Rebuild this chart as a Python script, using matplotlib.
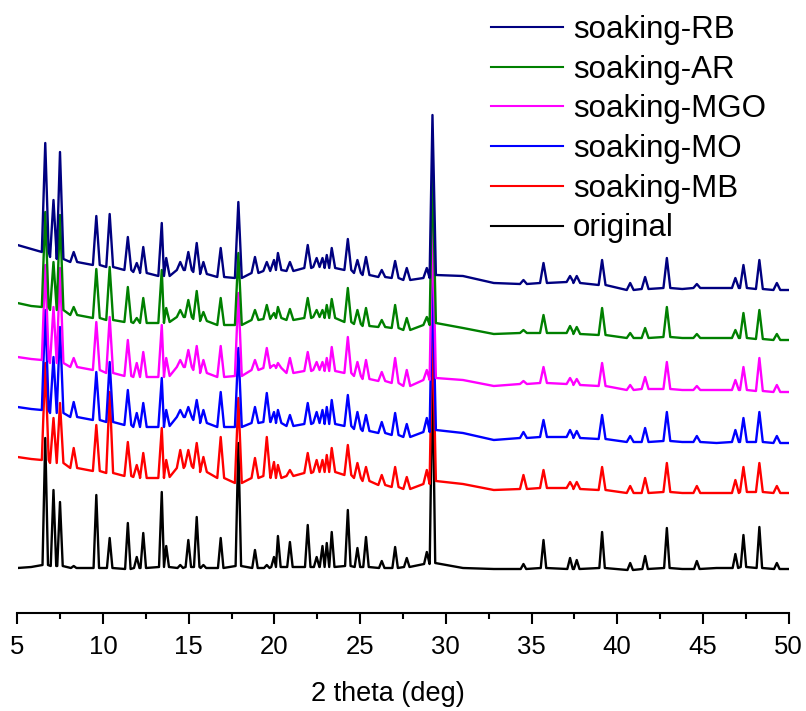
import numpy as np
import matplotlib.pyplot as plt

# peak positions (2theta, deg) shared by all patterns
peak_2theta = [6.62, 7.10, 7.48, 8.28, 9.60, 10.38, 11.44, 11.96,
               12.34, 13.42, 13.68, 14.50, 14.97, 15.46, 15.85, 16.86,
               17.89, 18.86, 19.55, 19.97, 20.20, 20.90, 21.94, 22.46,
               22.80, 23.05, 23.34, 24.28, 24.84, 25.34, 26.26, 27.04,
               27.72, 28.89, 29.22, 34.53, 35.70, 37.25, 37.64, 39.12,
               40.76, 41.63, 42.90, 44.65, 46.90, 47.37, 48.30, 49.32]
# background points away from the peaks
bg_2theta = [5.0, 5.8, 31.0, 32.8, 43.8, 45.8, 50.0]

# intensity at each peak top / at the peak foot, and background (a.u.)
original_top = [130, 78, 66, 2, 73, 30, 45, 11,
                35, 76, 22, 3, 28, 51, 3, 30,
                125, 18, 3, 11, 32, 26, 43, 11,
                22, 25, 36, 58, 20, 31, 7, 21,
                10, 16, 200, 4, 28, 10, 8, 36,
                5, 12, 40, 7, 14, 33, 41, 5]
original_base = [3, 2, 2, 0, 0, 0, -1, 0,
                 0, 1, 1, 0, 1, 1, 0, 0,
                 2, 0, 0, 1, 1, 1, 1, 1,
                 1, 1, 1, 2, 1, 1, 0, 0,
                 1, 4, 5, -1, 0, -1, -1, 0,
                 -2, -1, 0, -1, 0, 1, 0, -1]
original_bg = [0, 1, 0, -1, -1, 0, -1]

mb_top = [130, 75, 90, 45, 68, 101, 51, 28,
          40, 65, 33, 43, 43, 50, 36, 56,
          95, 35, 56, 31, 28, 23, 40, 33,
          33, 38, 45, 48, 30, 26, 18, 26,
          16, 23, 170, 18, 23, 11, 11, 26,
          7, 15, 30, 7, 13, 26, 30, 7]
mb_base = [33, 30, 30, 25, 22, 20, 17, 16,
           15, 15, 16, 25, 27, 25, 21, 15,
           10, 15, 17, 15, 15, 17, 20, 21,
           21, 21, 21, 18, 15, 12, 8, 6,
           4, 9, 12, 4, 5, 5, 4, 3,
           0, 0, 1, 0, 0, 1, 1, 0]
mb_bg = [36, 34, 9, 3, 0, 0, 0]

mo_top = [133, 86, 116, 41, 71, 81, 53, 30,
          40, 65, 33, 33, 36, 43, 33, 51,
          95, 36, 50, 31, 33, 28, 40, 31,
          33, 36, 43, 48, 31, 28, 21, 30,
          19, 25, 165, 11, 23, 13, 12, 28,
          7, 15, 31, 7, 13, 25, 31, 7]
mo_base = [33, 30, 30, 26, 23, 21, 18, 16,
           16, 16, 17, 26, 26, 23, 20, 16,
           16, 20, 21, 21, 20, 17, 19, 20,
           20, 19, 19, 17, 14, 12, 10, 8,
           6, 11, 13, 5, 6, 6, 5, 4,
           1, 1, 2, 1, 1, 1, 1, 0]
mo_bg = [36, 34, 10, 3, 1, 0, 0]

mgo_top = [128, 86, 125, 35, 71, 76, 53, 30,
           41, 68, 35, 33, 43, 47, 33, 47,
           100, 33, 45, 28, 30, 35, 41, 31,
           31, 35, 46, 56, 31, 33, 21, 35,
           23, 23, 170, 12, 26, 15, 14, 30,
           8, 16, 31, 7, 13, 26, 35, 8]
mgo_base = [33, 30, 30, 26, 23, 20, 17, 16,
            16, 16, 17, 26, 26, 23, 20, 16,
            17, 23, 25, 26, 25, 20, 22, 23,
            23, 22, 22, 20, 17, 14, 12, 10,
            7, 13, 15, 9, 10, 9, 8, 7,
            3, 4, 4, 3, 3, 3, 2, 1]
mgo_bg = [36, 34, 13, 7, 3, 3, 1]

ar_top = [131, 81, 128, 36, 74, 76, 56, 25,
          45, 73, 35, 33, 43, 52, 31, 45,
          90, 33, 38, 30, 36, 34, 45, 33,
          33, 38, 44, 55, 33, 35, 23, 38,
          25, 26, 175, 13, 28, 17, 16, 35,
          10, 15, 36, 9, 13, 30, 33, 9]
ar_base = [36, 33, 33, 28, 25, 23, 21, 20,
           20, 20, 21, 26, 26, 24, 22, 18,
           18, 23, 24, 25, 25, 23, 25, 26,
           26, 25, 25, 21, 19, 17, 16, 15,
           13, 18, 20, 10, 10, 10, 9, 8,
           5, 5, 6, 5, 5, 5, 4, 3]
ar_bg = [40, 37, 15, 9, 5, 5, 3]

rb_top = [150, 93, 141, 41, 77, 79, 56, 30,
          46, 70, 35, 31, 41, 50, 31, 45,
          91, 36, 31, 33, 40, 31, 48, 35,
          35, 38, 45, 54, 33, 36, 23, 32,
          25, 25, 178, 13, 30, 17, 17, 33,
          10, 16, 35, 9, 15, 28, 33, 10]
rb_base = [41, 36, 34, 31, 28, 26, 23, 21,
           20, 17, 17, 23, 23, 21, 19, 16,
           15, 20, 22, 23, 23, 22, 25, 26,
           26, 25, 25, 23, 20, 18, 16, 15,
           13, 15, 18, 9, 10, 11, 10, 8,
           3, 4, 5, 5, 5, 5, 4, 3]
rb_bg = [48, 44, 17, 10, 4, 5, 3]

labels = ["original", "soaking-MB", "soaking-MO", "soaking-MGO",
          "soaking-AR", "soaking-RB"]
offsets = [0, 75, 125, 175, 225, 275]
colors = ["black", "#ff0000", "#0000ff", "#ff00ff", "#008000", "#000080"]


def pattern(top, base, bg, hw):
    # line through background, peak feet and peak tops
    xs, ys = [], []
    n = len(peak_2theta)
    for i, c in enumerate(peak_2theta):
        lo, hi = c - hw, c + hw
        if i > 0:
            lo = max(lo, (peak_2theta[i - 1] + c) / 2)
        if i < n - 1:
            hi = min(hi, (c + peak_2theta[i + 1]) / 2)
        xs += [lo, c, hi]
        ys += [base[i], top[i], base[i]]
    xs += bg_2theta
    ys += bg
    order = np.argsort(xs, kind="stable")
    return np.array(xs)[order], np.array(ys, dtype=float)[order]


series = [(original_top, original_base, original_bg),
          (mb_top, mb_base, mb_bg),
          (mo_top, mo_base, mo_bg),
          (mgo_top, mgo_base, mgo_bg),
          (ar_top, ar_base, ar_bg),
          (rb_top, rb_base, rb_bg)]

plt.rcParams["font.family"] = ["Liberation Sans", "DejaVu Sans"]

fig = plt.figure(figsize=(8.06, 7.11), dpi=100)
ax = fig.add_axes([17.5 / 806, 98 / 711, 771 / 806, 613 / 711])

handles = []
for (top, base, bg), off, col, lab in zip(series, offsets, colors, labels):
    hw = 0.16 if lab == "original" else 0.2
    x, y = pattern(top, base, bg, hw)
    h, = ax.plot(x, y + off, color=col, lw=1.7, label=lab)
    handles.append(h)

ax.set_xlim(5, 50)
ax.set_ylim(-45, 568)
ax.set_xticks(np.arange(5, 51, 5))
ax.set_xticks(np.arange(7.5, 50, 5), minor=True)
ax.set_yticks([])
for s in ["top", "right", "left"]:
    ax.spines[s].set_visible(False)
ax.spines["bottom"].set_linewidth(1.5)
ax.tick_params(axis="x", which="major", direction="out", length=8, width=1.5,
               labelsize=18.5, pad=8)
ax.tick_params(axis="x", which="minor", direction="out", length=4.3, width=1.5)
ax.set_xlabel("2 theta (deg)", fontsize=19.5)
ax.xaxis.set_label_coords(0.48, -0.111)

leg = ax.legend(handles[::-1], labels[::-1], loc="upper left",
                bbox_to_anchor=(491 / 806, 1.0 - 15 / 711),
                bbox_transform=fig.transFigure, frameon=False, fontsize=22.5,
                handlelength=2.29, handletextpad=0.34, labelspacing=0.31,
                borderpad=0, borderaxespad=0)
for line in leg.get_lines():
    line.set_linewidth(1.5)

fig.savefig("out.png", dpi=100)
